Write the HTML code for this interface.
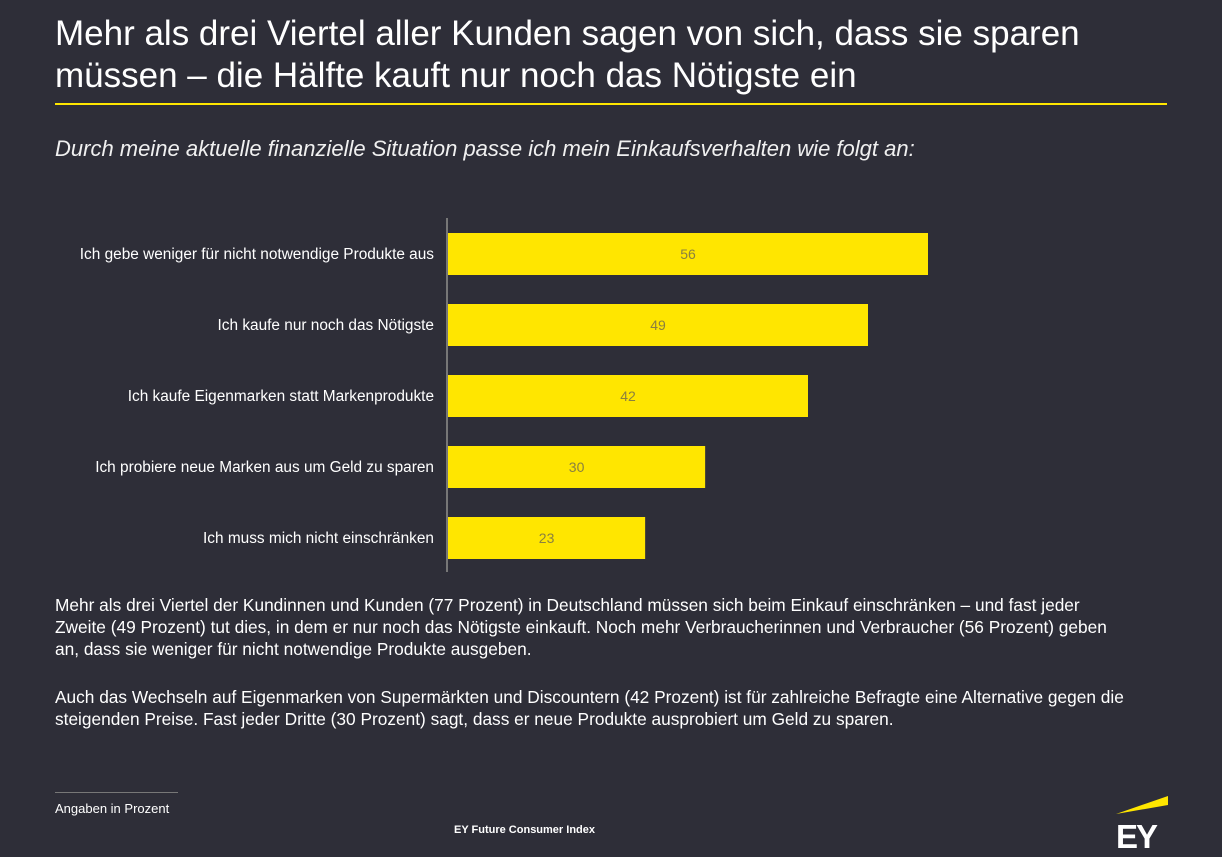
<!DOCTYPE html>
<html><head><meta charset="utf-8"><style>
body{margin:0;width:1222px;height:857px;background:#2e2e38;font-family:"Liberation Sans",sans-serif;color:#fff;position:relative;overflow:hidden}
.a{position:absolute}
</style></head><body>
<div class="a" style="left:55px;top:13px;font-size:35px;line-height:42px;color:#fff;white-space:nowrap">Mehr als drei Viertel aller Kunden sagen von sich, dass sie sparen<br>müssen – die Hälfte kauft nur noch das Nötigste ein</div>
<div class="a" style="left:55px;top:103px;width:1112px;height:2px;background:#ffe600"></div>
<div class="a" style="left:55px;top:136px;font-size:22px;font-style:italic;color:#f0f0f0;white-space:nowrap">Durch meine aktuelle finanzielle Situation passe ich mein Einkaufsverhalten wie folgt an:</div>
<svg class="a" style="left:0;top:0" width="1222" height="600">
<line x1="447" y1="218" x2="447" y2="572" stroke="#777" stroke-width="2"/>
<g id="bars"></g>
</svg>
<div class="a" style="left:55px;top:594px;font-size:17.3px;line-height:22px;white-space:nowrap">Mehr als drei Viertel der Kundinnen und Kunden (77 Prozent) in Deutschland müssen sich beim Einkauf einschränken – und fast jeder<br>Zweite (49 Prozent) tut dies, in dem er nur noch das Nötigste einkauft. Noch mehr Verbraucherinnen und Verbraucher (56 Prozent) geben<br>an, dass sie weniger für nicht notwendige Produkte ausgeben.</div>
<div class="a" style="left:55px;top:686px;font-size:17.3px;line-height:22px;white-space:nowrap">Auch das Wechseln auf Eigenmarken von Supermärkten und Discountern (42 Prozent) ist für zahlreiche Befragte eine Alternative gegen die<br>steigenden Preise. Fast jeder Dritte (30 Prozent) sagt, dass er neue Produkte ausprobiert um Geld zu sparen.</div>
<div class="a" style="left:55px;top:792px;width:123px;height:1px;background:#777"></div>
<div class="a" style="left:55px;top:801px;font-size:13px">Angaben in Prozent</div>
<div class="a" style="left:454px;top:824px;font-size:11px;font-weight:bold">EY Future Consumer Index</div>
<svg class="a" style="left:1110px;top:792px" width="65" height="60">
<polygon points="6,22 58,4 58,13" fill="#ffe600"/>
<text x="6" y="56" font-family="Liberation Sans" font-weight="bold" font-size="33" fill="#fff" letter-spacing="-2">EY</text>
</svg>
<script>
const categories=["Ich gebe weniger für nicht notwendige Produkte aus","Ich kaufe nur noch das Nötigste","Ich kaufe Eigenmarken statt Markenprodukte","Ich probiere neue Marken aus um Geld zu sparen","Ich muss mich nicht einschränken"];
const values=[56,49,42,30,23];
const x0=448, scale=480/56, yTop=233, step=71, bh=42;
const g=document.getElementById('bars');
const ns="http://www.w3.org/2000/svg";
categories.forEach((c,i)=>{
 const y=yTop+i*step, w=values[i]*scale;
 const r=document.createElementNS(ns,'rect');
 r.setAttribute('x',x0);r.setAttribute('y',y);r.setAttribute('width',w);r.setAttribute('height',bh);r.setAttribute('fill','#ffe600');
 
 
 g.appendChild(r);
 const v=document.createElementNS(ns,'text');
 v.setAttribute('x',x0+w/2);v.setAttribute('y',y+bh/2+5);v.setAttribute('text-anchor','middle');v.setAttribute('font-size','14');v.setAttribute('fill','#8a8040');v.setAttribute('font-family','Liberation Sans');
 v.textContent=values[i];
 
 
 g.appendChild(v);
 const t=document.createElementNS(ns,'text');
 t.setAttribute('x',434);t.setAttribute('y',y+bh/2+5);t.setAttribute('text-anchor','end');t.setAttribute('font-size','15.4');t.setAttribute('fill','#fff');t.setAttribute('font-family','Liberation Sans');
 t.textContent=c;
 
 
 g.appendChild(t);
});
</script>
</body></html>
